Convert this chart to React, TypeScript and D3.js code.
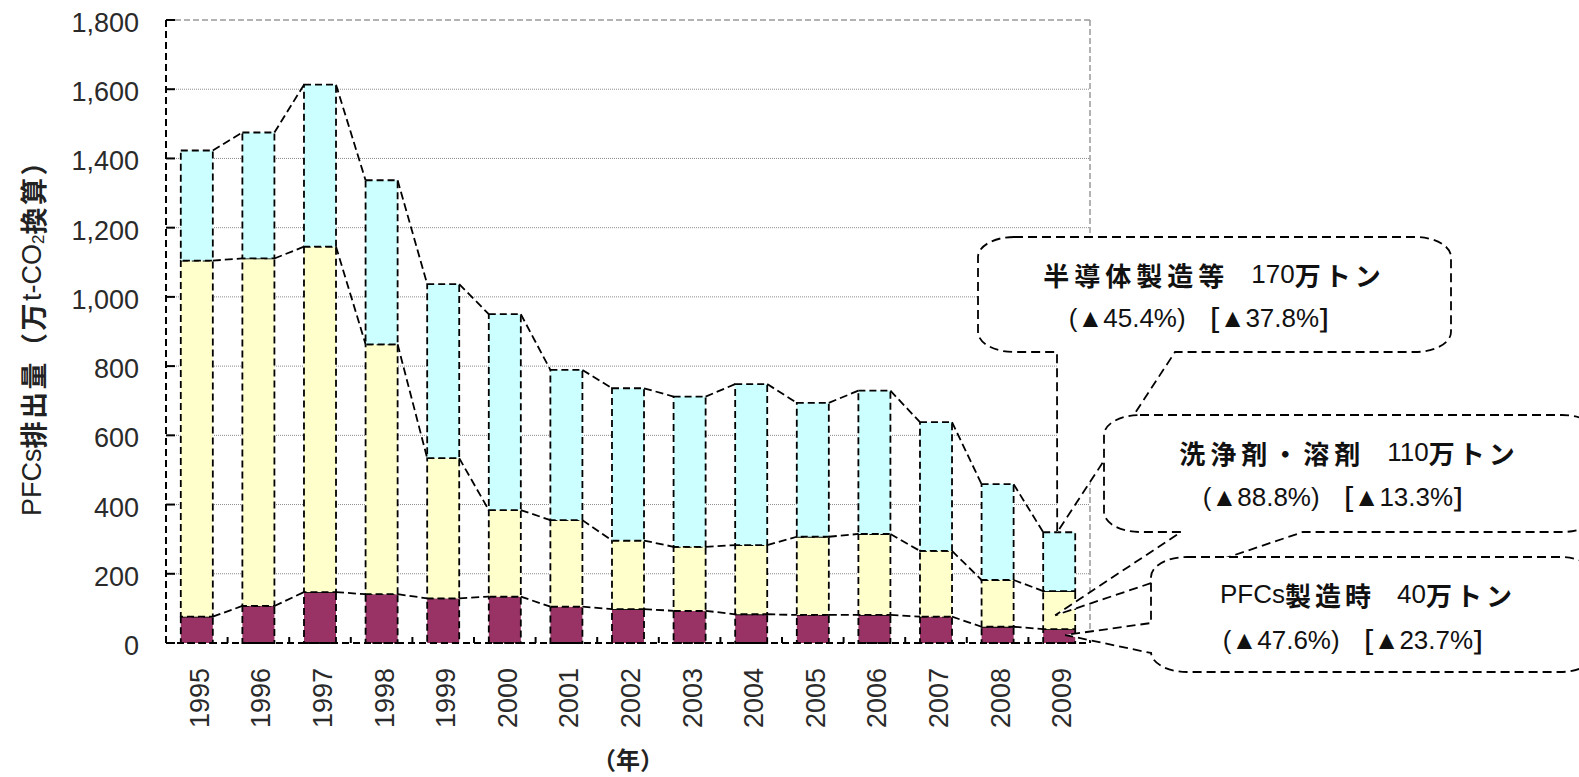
import React from 'react';
import * as d3 from 'd3';

// PFC emissions by source, 10k t-CO2 equivalent
const years = ['1995', '1996', '1997', '1998', '1999', '2000', '2001', '2002', '2003', '2004', '2005', '2006', '2007', '2008', '2009'];
const pfcProduction = [76, 107, 147, 141, 129, 134, 105, 98, 93, 83, 81, 81, 76, 47, 40];
const cleaningSolvent = [1029, 1004, 998, 722, 405, 250, 250, 198, 185, 200, 226, 234, 190, 135, 110];
const semiconductor = [318, 364, 468, 474, 503, 566, 434, 440, 434, 465, 387, 414, 372, 277, 170];
const yTicks = [0, 200, 400, 600, 800, 1000, 1200, 1400, 1600, 1800];

const seriesColors = ['#993366', '#FFFFCC', '#CCFFFF'];

const W = 1579;
const H = 777;
const M = { left: 166, right: 1090, top: 20, bottom: 643 };

const NUM_FONT = '"Liberation Sans", "Noto Sans", sans-serif';
const JP_FONT = '"Noto Sans CJK JP", "Noto Sans", sans-serif';

type Tail =
  | { side: 'bottom'; a: number; c: number; tip: [number, number] }
  | { side: 'left'; a: number; c: number; tip: [number, number] };

function calloutPath(l: number, t: number, r: number, b: number, rx: number, ry: number, tail: Tail) {
  const p = d3.path();
  p.moveTo(l + rx, t);
  p.lineTo(r - rx, t);
  p.bezierCurveTo(r - rx * 0.45, t, r, t + ry * 0.45, r, t + ry);
  p.lineTo(r, b - ry);
  p.bezierCurveTo(r, b - ry * 0.45, r - rx * 0.45, b, r - rx, b);
  if (tail.side === 'bottom') {
    p.lineTo(tail.c, b);
    p.lineTo(tail.tip[0], tail.tip[1]);
    p.lineTo(tail.a, b);
  }
  p.lineTo(l + rx, b);
  p.bezierCurveTo(l + rx * 0.45, b, l, b - ry * 0.45, l, b - ry);
  if (tail.side === 'left') {
    p.lineTo(l, tail.c);
    p.lineTo(tail.tip[0], tail.tip[1]);
    p.lineTo(l, tail.a);
  }
  p.lineTo(l, t + ry);
  p.bezierCurveTo(l, t + ry * 0.45, l + rx * 0.45, t, l + rx, t);
  p.closePath();
  return p.toString();
}

export default function App() {
  const x = d3.scaleBand<string>().domain(years).range([M.left, M.right]).paddingInner(0.48).paddingOuter(0.24);
  const y = d3.scaleLinear().domain([0, 1800]).range([M.bottom, M.top]);
  const bw = x.bandwidth();
  const step = x.step();

  const stacked = d3.stack<number>().keys([0, 1, 2]).value((i, k) => [pfcProduction, cleaningSolvent, semiconductor][k as number][i])(
    d3.range(years.length)
  );

  const dashBar = '7,4';
  const last = years.length - 1;
  const lastX = x(years[last])!;
  const lastCenter = lastX + bw / 2;

  const tip1: [number, number] = [lastCenter - 2, y(stacked[2][last][1])];
  const tip2: [number, number] = [lastCenter - 4, y((stacked[1][last][0] + stacked[1][last][1]) / 2 - 15)];
  const tip3: [number, number] = [lastCenter + 6, y(stacked[0][last][1] / 2 + 3)];

  const numStyle = { fontFamily: NUM_FONT, fontWeight: 300 as any };
  const jpStyle = { fontFamily: JP_FONT, fontWeight: 700 as any };

  return (
    <svg width={W} height={H} viewBox={`0 0 ${W} ${H}`} style={{ position: 'absolute', left: 0, top: 0, background: '#fff' }}>
      {/* gridlines */}
      {yTicks.slice(1, -1).map((v) => (
        <line key={v} x1={M.left} x2={M.right} y1={y(v)} y2={y(v)} stroke="#8c8c8c" strokeWidth={1} strokeDasharray="1,1" />
      ))}
      {/* plot area border (top and right) */}
      <line x1={M.left} x2={M.right} y1={M.top} y2={M.top} stroke="#999" strokeWidth={1.5} strokeDasharray="6,3" />
      <line x1={M.right} x2={M.right} y1={M.top} y2={M.bottom} stroke="#999" strokeWidth={1.5} strokeDasharray="6,3" />

      {/* stacked bars */}
      {stacked.map((layer, k) => (
        <g key={k}>
          {layer.map((d, i) => (
            <rect
              key={i}
              x={x(years[i])!}
              y={y(d[1])}
              width={bw}
              height={y(d[0]) - y(d[1])}
              fill={seriesColors[k]}
              stroke="#000"
              strokeWidth={1.8}
              strokeDasharray={dashBar}
            />
          ))}
        </g>
      ))}

      {/* series lines connecting segment tops */}
      {stacked.map((layer, k) => (
        <g key={'s' + k}>
          {layer.slice(0, -1).map((d, i) => (
            <line
              key={i}
              x1={x(years[i])! + bw}
              y1={y(d[1])}
              x2={x(years[i + 1])!}
              y2={y(layer[i + 1][1])}
              stroke="#000"
              strokeWidth={1.8}
              strokeDasharray="8,4"
            />
          ))}
        </g>
      ))}

      {/* axes */}
      <line x1={M.left} x2={M.left} y1={M.top} y2={M.bottom} stroke="#000" strokeWidth={2} strokeDasharray={dashBar} />
      <line x1={M.left} x2={M.right} y1={M.bottom} y2={M.bottom} stroke="#000" strokeWidth={2} strokeDasharray={dashBar} />
      {yTicks.map((v) => (
        <line key={'yt' + v} x1={M.left} x2={M.left + 9} y1={y(v)} y2={y(v)} stroke="#000" strokeWidth={2} />
      ))}
      {d3.range(years.length + 1).map((i) => (
        <line
          key={'xt' + i}
          x1={M.left + i * step}
          x2={M.left + i * step}
          y1={M.bottom}
          y2={M.bottom - 6}
          stroke="#000"
          strokeWidth={2}
        />
      ))}

      {/* y tick labels */}
      {yTicks.map((v) => (
        <text key={'yl' + v} x={139} y={y(v) + 3} textAnchor="end" dominantBaseline="central" fontSize={27} fill="#2a2a2a" style={numStyle}>
          {d3.format(',')(v)}
        </text>
      ))}

      {/* x tick labels */}
      {years.map((yr) => (
        <text
          key={yr}
          transform={`translate(${x(yr)! + bw / 2 + 3},668) rotate(-90)`}
          textAnchor="end"
          dominantBaseline="central"
          fontSize={27}
          fill="#2a2a2a"
          style={numStyle}
        >
          {yr}
        </text>
      ))}

      {/* axis titles */}
      <text transform="translate(32,331) rotate(-90)" textAnchor="middle" dominantBaseline="central" fontSize={27} fill="#222">
        <tspan style={numStyle}>PFCs</tspan>
        <tspan style={jpStyle} letterSpacing={2.5}>排出量（万</tspan>
        <tspan style={numStyle}>t-CO</tspan>
        <tspan style={numStyle} fontSize={17} dy={6}>2</tspan>
        <tspan style={jpStyle} dy={-6} letterSpacing={2.5}>換算）</tspan>
      </text>
      <text x={628} y={758} textAnchor="middle" dominantBaseline="central" fontSize={24} fill="#222" style={jpStyle}>
        （年）
      </text>

      {/* callouts */}
      <path
        d={calloutPath(978, 237, 1451, 352, 36, 20, { side: 'bottom', a: 1057, c: 1175, tip: tip1 })}
        fill="#fff"
        stroke="#000"
        strokeWidth={1.8}
        strokeDasharray="9,5"
      />
      <text x={1214} y={274} textAnchor="middle" dominantBaseline="central" fontSize={26} fill="#111">
        <tspan style={jpStyle} letterSpacing={5}>半導体製造等</tspan>
        <tspan style={numStyle} dx={22}>170</tspan>
        <tspan style={jpStyle} letterSpacing={4}>万トン</tspan>
      </text>
      <text x={1207} y={318} textAnchor="middle" dominantBaseline="central" fontSize={26} fill="#111">
        <tspan style={numStyle}>(▲45.4%)</tspan>
        <tspan style={jpStyle} dx={8}>［</tspan>
        <tspan style={numStyle}>▲37.8%</tspan>
        <tspan style={jpStyle}>］</tspan>
      </text>

      <path
        d={calloutPath(1104, 415, 1598, 532, 36, 20, { side: 'bottom', a: 1181, c: 1303, tip: tip2 })}
        fill="#fff"
        stroke="#000"
        strokeWidth={1.8}
        strokeDasharray="9,5"
      />
      <text x={1349} y={452} textAnchor="middle" dominantBaseline="central" fontSize={26} fill="#111">
        <tspan style={jpStyle} letterSpacing={5}>洗浄剤・溶剤</tspan>
        <tspan style={numStyle} dx={22}>110</tspan>
        <tspan style={jpStyle} letterSpacing={4}>万トン</tspan>
      </text>
      <text x={1341} y={497} textAnchor="middle" dominantBaseline="central" fontSize={26} fill="#111">
        <tspan style={numStyle}>(▲88.8%)</tspan>
        <tspan style={jpStyle} dx={8}>［</tspan>
        <tspan style={numStyle}>▲13.3%</tspan>
        <tspan style={jpStyle}>］</tspan>
      </text>

      <path
        d={calloutPath(1151, 557, 1596, 672, 36, 20, { side: 'left', a: 623, c: 653, tip: tip3 })}
        fill="#fff"
        stroke="#000"
        strokeWidth={1.8}
        strokeDasharray="9,5"
      />
      <text x={1368} y={594} textAnchor="middle" dominantBaseline="central" fontSize={26} fill="#111">
        <tspan style={numStyle}>PFCs</tspan>
        <tspan style={jpStyle} letterSpacing={4}>製造時</tspan>
        <tspan style={numStyle} dx={22}>40</tspan>
        <tspan style={jpStyle} letterSpacing={4}>万トン</tspan>
      </text>
      <text x={1361} y={640} textAnchor="middle" dominantBaseline="central" fontSize={26} fill="#111">
        <tspan style={numStyle}>(▲47.6%)</tspan>
        <tspan style={jpStyle} dx={8}>［</tspan>
        <tspan style={numStyle}>▲23.7%</tspan>
        <tspan style={jpStyle}>］</tspan>
      </text>
    </svg>
  );
}
